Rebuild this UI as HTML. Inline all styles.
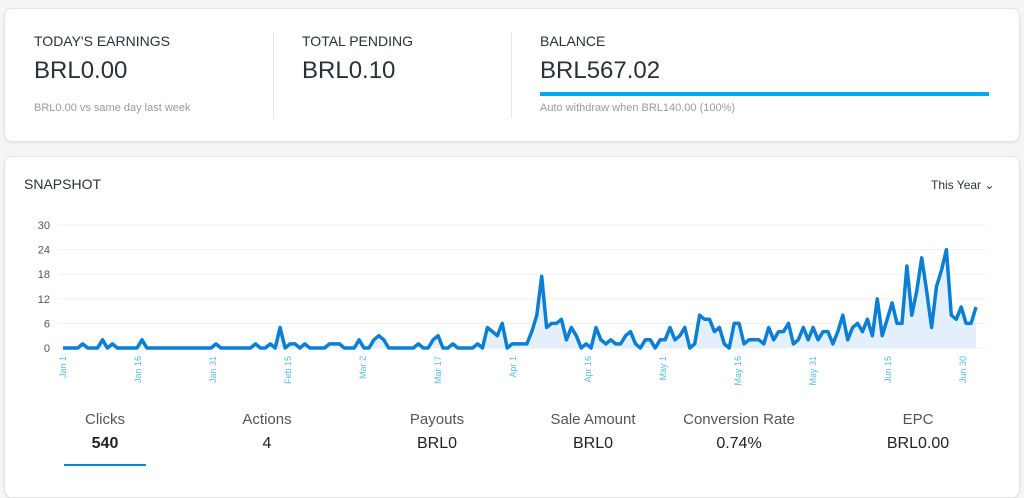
<!DOCTYPE html><html><head><style>
body{margin:0;width:1024px;height:486px;background:#f5f5f5;font-family:"Liberation Sans",sans-serif;overflow:hidden;position:relative;color:#263238}
.card{position:absolute;background:#fff;border:1px solid #e3e3e3;border-radius:8px;box-shadow:0 1px 2px rgba(0,0,0,.08)}
.t{position:absolute;white-space:nowrap}
.h{font-size:14px;font-weight:500;color:#263238}
.v{font-size:24px;color:#263238}
.s{font-size:11px;color:#9a9a9a}
.st{position:absolute;width:160px;text-align:center}
.st .l{font-size:15px;color:#555}
.st .n{font-size:16px;color:#222;margin-top:7px}
</style></head><body>
<div class="card" style="left:4px;top:8px;width:1014px;height:132px"></div>
<div class="t h" style="left:34px;top:33px">TODAY'S EARNINGS</div>
<div class="t v" style="left:34px;top:57px">BRL0.00</div>
<div class="t s" style="left:34px;top:102px">BRL0.00 vs same day last week</div>
<div style="position:absolute;left:273px;top:32px;width:1px;height:86px;background:#e6e6e6"></div>
<div class="t h" style="left:302px;top:33px">TOTAL PENDING</div>
<div class="t v" style="left:302px;top:57px">BRL0.10</div>
<div style="position:absolute;left:511px;top:32px;width:1px;height:86px;background:#e6e6e6"></div>
<div class="t h" style="left:540px;top:33px">BALANCE</div>
<div class="t v" style="left:540px;top:57px">BRL567.02</div>
<div style="position:absolute;left:540px;top:92px;width:449px;height:4px;background:#03a9f4"></div>
<div class="t s" style="left:540px;top:102px">Auto withdraw when BRL140.00 (100%)</div>
<div class="card" style="left:4px;top:156px;width:1014px;height:340px"></div>
<div class="t" style="left:24px;top:176px;font-size:14px">SNAPSHOT</div>
<div class="t" style="left:931px;top:178px;font-size:12px">This Year ⌄</div>
<svg id="c" style="position:absolute;left:0;top:0" width="1024" height="486"></svg>
<div class="st" style="left:25px;top:411px"><div class="l">Clicks</div><div class="n" style="font-weight:bold">540</div></div>
<div style="position:absolute;left:64px;top:464px;width:82px;height:2px;background:#0a84d6"></div>
<div class="st" style="left:187px;top:411px"><div class="l">Actions</div><div class="n">4</div></div>
<div class="st" style="left:357px;top:411px"><div class="l">Payouts</div><div class="n">BRL0</div></div>
<div class="st" style="left:513px;top:411px"><div class="l">Sale Amount</div><div class="n">BRL0</div></div>
<div class="st" style="left:659px;top:411px"><div class="l">Conversion Rate</div><div class="n">0.74%</div></div>
<div class="st" style="left:838px;top:411px"><div class="l">EPC</div><div class="n">BRL0.00</div></div>
<script>
var a={4:1,8:2,10:1,16:2,31:1,39:1,42:1,44:5,46:1,47:1,49:1,54:1,55:1,56:1,60:2,63:2,64:3,65:2,72:1,75:2,76:3,79:1,84:1,86:5,87:4,88:3,89:6};
var v=[];for(var i=0;i<90;i++)v.push(a[i]||0);
v=v.concat([0,1,1,1,1,4,8,17.5,5,6,6,7,2,5,3,0,1,0,5,2,1,2,1,1,3,4,1,0,2,2,0,2,2,5,2,3,5,0,1,8,7,7,4,5,1,0,6,6,1,2,2,2,1,5,2,4,4,6,1,2,5,2,5,2,4,4,1,4,8,2,5,6,4,7,3,12,3,7,11,6,6,20,8,14,22,14,5,15,19,24,8,7,10,6,6,10]);
var s='',n=v.length,x0=63,x1=976,dx=(x1-x0)/(n-1),y0=348,k=4.1;
for(var g=0;g<=5;g++){var y=y0-g*6*k;s+='<line x1="58" x2="986" y1="'+y+'" y2="'+y+'" stroke="#f0f0f0"/><text x="50" y="'+(y+4)+'" font-size="11" fill="#555" text-anchor="end" font-family="Liberation Sans">'+g*6+'</text>';}
var p='';for(i=0;i<n;i++)p+=(i?'L':'M')+(x0+i*dx).toFixed(1)+' '+(y0-v[i]*k).toFixed(1);
s+='<path d="'+p+'L'+x1+' '+y0+'L'+x0+' '+y0+'Z" fill="#e3f0fb"/><path d="'+p+'" fill="none" stroke="#0a7fd4" stroke-width="3.5" stroke-linejoin="round"/>';
var L=['Jan 1','Jan 16','Jan 31','Feb 15','Mar 2','Mar 17','Apr 1','Apr 16','May 1','May 16','May 31','Jun 15','Jun 30'];
for(i=0;i<L.length;i++){var x=x0+i*15*5+3;s+='<text transform="translate('+x+',356) rotate(-90)" font-size="9" fill="#5bbbee" text-anchor="end" font-family="Liberation Sans">'+L[i]+'</text>';}
document.getElementById('c').innerHTML=s;
</script>
</body></html>
